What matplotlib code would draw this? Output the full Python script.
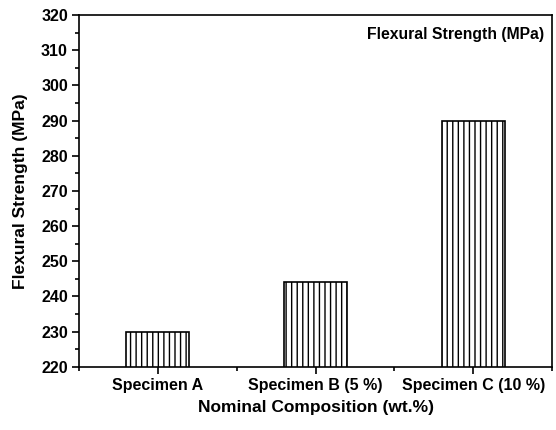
import matplotlib
matplotlib.use('Agg')
import matplotlib.pyplot as plt
from matplotlib.ticker import MultipleLocator

plt.rcParams['font.family'] = ['Liberation Sans', 'DejaVu Sans']
plt.rcParams['font.weight'] = 'bold'
plt.rcParams['hatch.linewidth'] = 1.0

# data
specimens = ['Specimen A', 'Specimen B (5 %)', 'Specimen C (10 %)']
strength = [230, 244, 290]

fig = plt.figure(figsize=(5.56, 4.3), dpi=100)
ax = fig.add_axes([0.142, 0.147, 0.851, 0.818])

x = list(range(len(specimens)))
ax.bar(x, strength, width=0.4, color='white', edgecolor='black',
       hatch='|||', linewidth=1.2, zorder=2)

ax.set_xlim(-0.5, 2.5)
ax.set_ylim(220, 320)
ax.set_xticks(x)
ax.set_xticklabels(specimens, fontsize=11.5, fontweight='bold')
ax.xaxis.set_minor_locator(MultipleLocator(0.5))
ax.yaxis.set_major_locator(MultipleLocator(10))
ax.yaxis.set_minor_locator(MultipleLocator(5))
ax.tick_params(axis='both', which='major', direction='out', length=5, width=1.2,
               labelsize=11.5, pad=3)
ax.tick_params(axis='both', which='minor', direction='out', length=3, width=1.2)
for lab in ax.get_yticklabels():
    lab.set_fontweight('bold')

for s in ax.spines.values():
    s.set_linewidth(1.2)

ax.set_xlabel('Nominal Composition (wt.%)', fontsize=12.5, fontweight='bold', labelpad=5)
ax.set_ylabel('Flexural Strength (MPa)', fontsize=12.5, fontweight='bold', labelpad=9)

ax.text(0.983, 0.965, 'Flexural Strength (MPa)', transform=ax.transAxes,
        ha='right', va='top', fontsize=11.3, fontweight='bold')

fig.savefig('out.png', dpi=100)
